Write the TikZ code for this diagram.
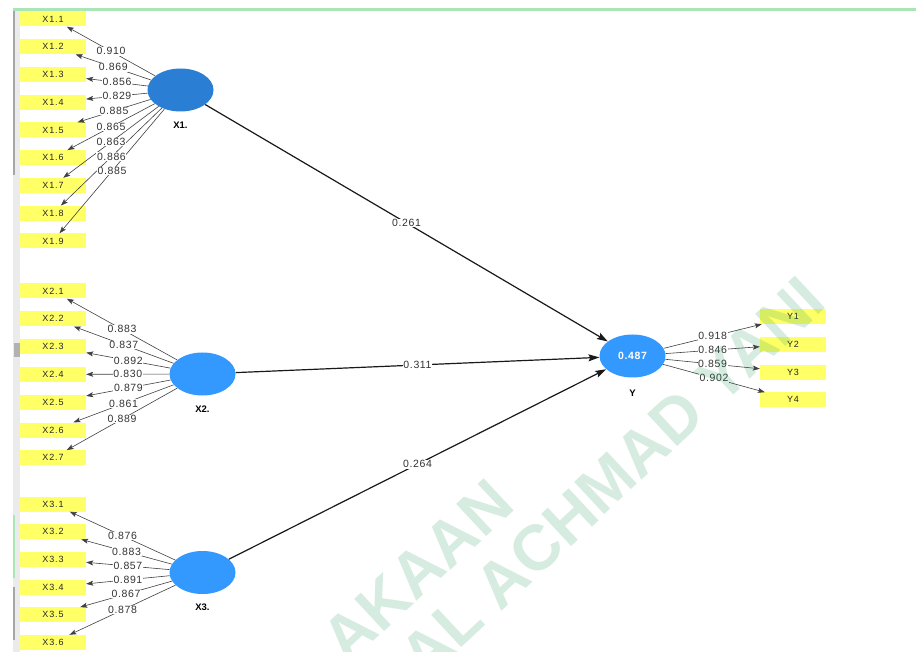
\documentclass[tikz,border=0pt]{standalone}
\usepackage{fontspec}
\setmainfont{Liberation Sans}
\newfontfamily\labfont[LetterSpace=6]{Liberation Sans}
\newfontfamily\boxfont[LetterSpace=10]{Liberation Sans}
\usetikzlibrary{shapes.geometric,arrows.meta}
\definecolor{indyellow}{HTML}{FFFF66}
\definecolor{lvblue}{HTML}{3399FF}
\definecolor{lvdark}{HTML}{2A7FD4}
\definecolor{topgreen}{HTML}{A9E5B5}
\definecolor{wmgreen}{RGB}{30,150,90}
\begin{document}
\begin{tikzpicture}[x=1pt,y=-1pt,
  indbox/.style={fill=indyellow, minimum width=66pt, minimum height=15pt, inner sep=0pt,
    font=\boxfont\fontsize{9}{10}\selectfont, text=black!85},
  lv/.style={ellipse, fill=lvblue, minimum width=66pt, minimum height=43pt, inner sep=0pt},
  lvname/.style={font=\bfseries\fontsize{9.5}{10}\selectfont, inner sep=0pt},
  ldarrow/.style={draw=black!75, line width=0.6pt, -{Stealth[length=7pt,width=5pt,inset=1.5pt]}},
  strarrow/.style={draw=black!90, line width=1.2pt, -{Stealth[length=11pt,width=7pt,inset=2pt]}},
  lab/.style={fill=white, inner sep=0.6pt, font=\labfont\fontsize{10.5}{11}\selectfont, text=black!80},
  wm/.style={font=\bfseries\fontsize{64}{64}\selectfont, text=wmgreen, text opacity=0.18, inner sep=0pt}
]
\useasboundingbox (0,0) rectangle (916,652);
\fill[white] (0,0) rectangle (916,652);
% window frame details
\fill[black!8] (13,8) rectangle (20,652);
\fill[black!35] (13,10) rectangle (14.5,175);
\fill[black!30] (14,343) rectangle (20,357);
\fill[topgreen] (13,515) rectangle (14.5,578);
\fill[black!35] (13,587) rectangle (14.5,640);
\draw[topgreen, line width=3pt] (13,9.5) -- (916,9.5);

% latent variables
\node[lv, fill=lvdark] (LX1) at (180.5,90) {};
\node[lv] (LX2) at (202.5,374) {};
\node[lv] (LX3) at (202.5,572.5) {};
\node[lv, text=white, font=\labfont\bfseries\fontsize{10.5}{11}\selectfont] (LY) at (632.5,356) {0.487};
\node[lvname] (nX1) at (180.5,125) {X1.};
\node[lvname] (nX2) at (202.5,409) {X2.};
\node[lvname] (nX3) at (202.5,607) {X3.};
\node[lvname] (nY) at (632.5,393) {Y};

% X1 indicators
\foreach \i [evaluate=\i as \yy using 19+(\i-1)*27.75] in {1,...,9}{
  \node[indbox] (a1\i) at (53,\yy) {X1.\i};
  \draw[ldarrow] (LX1) -- coordinate[pos=0.5] (m1\i) (a1\i);
}
\foreach \i/\v in {1/0.910,2/0.869,3/0.856,4/0.829,5/0.885,6/0.865,7/0.863,8/0.886,9/0.885}{
  \node[lab] (l1\i) at (m1\i) {\v};
}
% X2 indicators
\foreach \i [evaluate=\i as \yy using 291+(\i-1)*27.8] in {1,...,7}{
  \node[indbox] (a2\i) at (53,\yy) {X2.\i};
  \draw[ldarrow] (LX2) -- coordinate[pos=0.5] (m2\i) (a2\i);
}
\foreach \i/\v in {1/0.883,2/0.837,3/0.892,4/0.830,5/0.879,6/0.861,7/0.889}{
  \node[lab] (l2\i) at (m2\i) {\v};
}
% X3 indicators
\foreach \i [evaluate=\i as \yy using 504+(\i-1)*27.7] in {1,...,6}{
  \node[indbox] (a3\i) at (53,\yy) {X3.\i};
  \draw[ldarrow] (LX3) -- coordinate[pos=0.5] (m3\i) (a3\i);
}
\foreach \i/\v in {1/0.876,2/0.883,3/0.857,4/0.891,5/0.867,6/0.878}{
  \node[lab] (l3\i) at (m3\i) {\v};
}
% Y indicators
\foreach \i [evaluate=\i as \yy using 316.5+(\i-1)*27.8] in {1,...,4}{
  \node[indbox] (y\i) at (793,\yy) {Y\i};
  \draw[ldarrow] (LY) -- coordinate[pos=0.5] (my\i) (y\i);
}
\foreach \i/\v in {1/0.918,2/0.846,3/0.859,4/0.902}{
  \node[lab] (ly\i) at (my\i) {\v};
}

% structural paths
\draw[strarrow] (LX1) -- node[lab] (p1) {0.261} (LY);
\draw[strarrow] (LX2) -- node[lab] (p2) {0.311} (LY);
\draw[strarrow] (LX3) -- node[lab] (p3) {0.264} (LY);

% watermark
\begin{scope}
  \clip (0,0) rectangle (916,652);
  \node[wm, rotate=43, anchor=east] (wm1) at (502,492) {AKAAN};
  \node[wm, rotate=43] (wm2) at (612,478) {AL ACHMAD YANI};
\end{scope}
\end{tikzpicture}
\end{document}
